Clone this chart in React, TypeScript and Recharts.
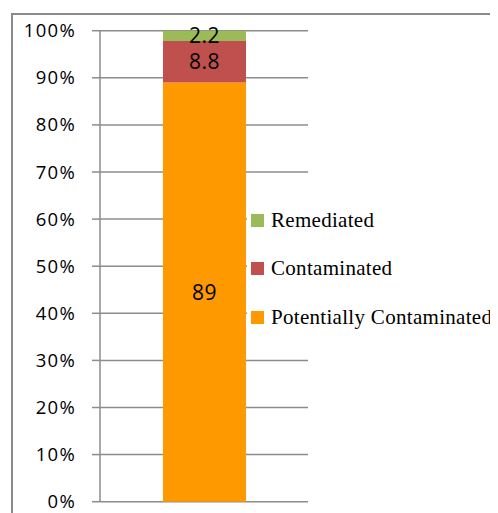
import React from "react"
import { BarChart, Bar, XAxis, YAxis, CartesianGrid, LabelList } from "recharts"

const categories = ["Sites"]
const potentiallyContaminated = [89]
const contaminated = [8.8]
const remediated = [2.2]
const yTicks = [0, 10, 20, 30, 40, 50, 60, 70, 80, 90, 100]

const legendItems = [
  { name: "Remediated", color: "#9BBB59" },
  { name: "Contaminated", color: "#C0504D" },
  { name: "Potentially Contaminated", color: "#FF9900" },
]

const data = categories.map((c, i) => ({
  category: c,
  potential: potentiallyContaminated[i],
  contaminated: contaminated[i],
  remediated: remediated[i],
}))

const sans = "'Open Sans', Lato, sans-serif"
const serif = "'Liberation Serif', 'DejaVu Serif', serif"

export default function App() {
  return (
    <div style={{ position: "relative", width: 490, height: 505, overflow: "hidden", background: "#fff" }}>
      {/* legend */}
      <div
        style={{
          position: "absolute",
          left: 239,
          top: 180,
          paddingTop: 8,
          paddingBottom: 16,
          paddingLeft: 4,
          width: 245,
          background: "#fff",
          zIndex: 1,
        }}
      >
        {legendItems.map((item) => (
          <div key={item.name} style={{ display: "flex", alignItems: "center", height: 48.5 }}>
            <div style={{ width: 13, height: 13, background: item.color, marginRight: 7, flexShrink: 0 }} />
            <span style={{ fontFamily: serif, fontSize: 21, color: "#000", whiteSpace: "nowrap", letterSpacing: 0.3 }}>
              {item.name}
            </span>
          </div>
        ))}
      </div>
      {/* frame */}
      <div
        style={{
          position: "absolute",
          left: 3,
          top: 5,
          width: 486,
          height: 520,
          border: "2px solid #8a8a8a",
          borderBottom: "none",
          boxSizing: "border-box",
          zIndex: 2,
        }}
      />
      <BarChart
        width={490}
        height={505}
        data={data}
        margin={{ top: 22.7, right: 190, bottom: 11.3, left: 0 }}
        barSize={83}
      >
        <CartesianGrid horizontal={true} vertical={false} stroke="#8c8c8c" strokeWidth={1.5} />
        <XAxis dataKey="category" hide />
        <YAxis
          width={92}
          domain={[0, 100]}
          ticks={yTicks}
          tickFormatter={(v: number) => `${v}%`}
          axisLine={{ stroke: "#8c8c8c", strokeWidth: 1.5 }}
          tickLine={{ stroke: "#8c8c8c", strokeWidth: 1.5 }}
          tickSize={8}
          tickMargin={16}
          tick={{ fill: "#000", fontSize: 18.5, fontFamily: sans, letterSpacing: 1.3 }}
          interval={0}
        />
        <Bar dataKey="potential" stackId="a" fill="#FF9900" isAnimationActive={false} name="Potentially Contaminated">
          <LabelList dataKey="potential" position="center" fill="#000" fontSize={21} fontFamily={sans} letterSpacing={0.5} />
        </Bar>
        <Bar dataKey="contaminated" stackId="a" fill="#C0504D" isAnimationActive={false} name="Contaminated">
          <LabelList dataKey="contaminated" position="center" fill="#000" fontSize={21} fontFamily={sans} letterSpacing={0.5} />
        </Bar>
        <Bar dataKey="remediated" stackId="a" fill="#9BBB59" isAnimationActive={false} name="Remediated">
          <LabelList dataKey="remediated" position="center" fill="#000" fontSize={21} fontFamily={sans} letterSpacing={0.5} />
        </Bar>
      </BarChart>
    </div>
  )
}
